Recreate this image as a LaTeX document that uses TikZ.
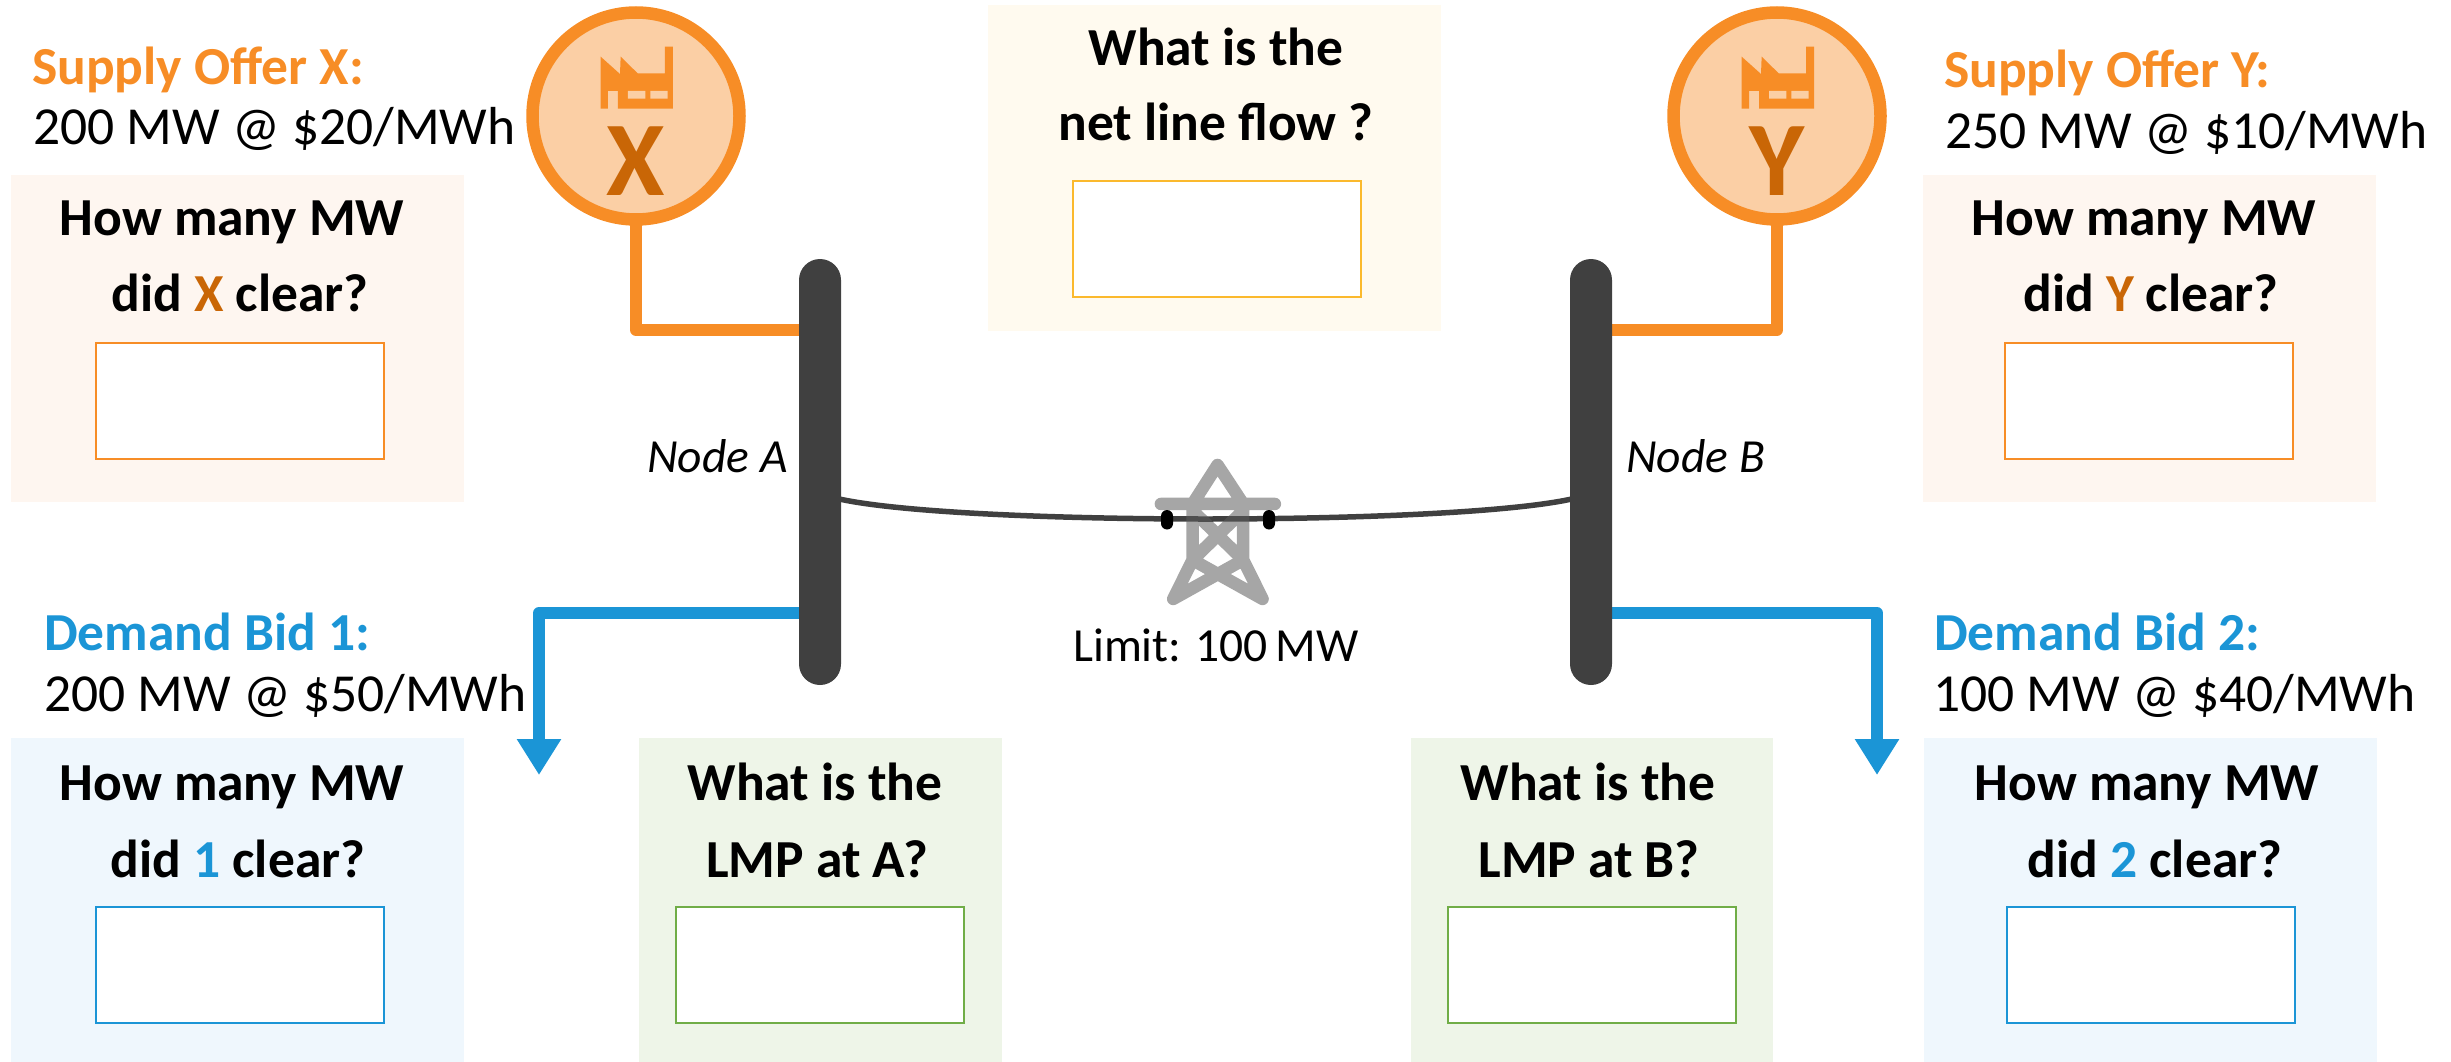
\documentclass[tikz,border=0pt]{standalone}
\usepackage{fontspec}
\setmainfont{Carlito}
\usetikzlibrary{arrows.meta,backgrounds}
\definecolor{ora}{HTML}{F78D26}
\definecolor{orad}{HTML}{C96606}
\definecolor{oral}{HTML}{FBCFA5}
\definecolor{orabg}{HTML}{FEF6F0}
\definecolor{yelbg}{HTML}{FFFAEF}
\definecolor{yel}{HTML}{FBB92D}
\definecolor{blu}{HTML}{1B95D6}
\definecolor{blubg}{HTML}{EFF7FD}
\definecolor{grn}{HTML}{70AD47}
\definecolor{grnbg}{HTML}{EEF5E8}
\definecolor{dark}{HTML}{404040}
\definecolor{tower}{HTML}{5D5D5D}
\newcommand{\fs}[1]{\fontsize{#1}{#1}\selectfont}
\tikzset{
  panel/.style={rectangle,inner sep=0pt,outer sep=0pt,minimum width=453pt,minimum height=#1},
  panel/.default=324pt,
  answer/.style={rectangle,draw=#1,fill=white,line width=2pt,inner sep=0pt,minimum width=288pt,minimum height=116pt},
  head/.style={anchor=base west,inner sep=0pt,font=\fs{53.5}\bfseries},
  offer/.style={anchor=base west,inner sep=0pt,font=\fs{53.5},text=black},
  ask/.style={anchor=base,inner sep=0pt,font=\fs{53.5}\bfseries,text=black},
  small/.style={anchor=base,inner sep=0pt,font=\fs{47.5},text=black},
  busbar/.style={rectangle,fill=dark,rounded corners=21pt,inner sep=0pt,outer sep=0pt,minimum width=42pt,minimum height=426pt},
  gen/.style={circle,draw=ora,fill=oral,line width=12.5pt,inner sep=0pt,minimum size=207pt,outer sep=0pt},
  genline/.style={draw=ora,line width=12pt,line join=round},
  dem/.style={draw=blu,line width=12pt,line join=round,-{Triangle[length=36pt,width=42pt]}},
  letter/.style={anchor=base,inner sep=0pt,font=\fs{106}\bfseries,text=orad}
}
\newcommand{\factory}[1]{%
  \begin{scope}[shift={(#1,0)},x=0.3333pt,y=-0.3333pt]
    \fill[ora] (302,170)--(360,222)--(362,170)--(413,220)--(495,220)--(495,140)--(519,140)--(519,326)--(354,326)--(354,273)--(324,273)--(324,326)--(302,326)--cycle;
    \fill[oral] (384,273) rectangle (436,296) (451,273) rectangle (503,296);
  \end{scope}}
\begin{document}
\begin{tikzpicture}[x=1pt,y=-1pt]
\useasboundingbox (0,0) rectangle (2451,1062);
% panels
\node[panel=327pt,fill=orabg] (pX) at (237.5,338.5) {};
\node[panel=327pt,fill=orabg] (pY) at (2149.5,338.5) {};
\node[panel=326pt,fill=yelbg] (pN) at (1214,168) {};
\node[panel,fill=blubg] (p1) at (237.5,900) {};
\node[panel,fill=blubg] (p2) at (2150.5,900) {};
\node[panel,fill=grnbg,minimum width=363pt] (pA) at (820.5,900) {};
\node[panel,fill=grnbg,minimum width=362pt] (pB) at (1592,900) {};
% answer boxes
\node[answer=ora] (aX) at (240,401) {};
\node[answer=ora] (aY) at (2149,401) {};
\node[answer=yel] (aN) at (1216.5,239) {};
\node[answer=blu] (a1) at (240,964.5) {};
\node[answer=blu] (a2) at (2151,964.5) {};
\node[answer=grn] (aA) at (820,964.5) {};
\node[answer=grn] (aB) at (1592,964.5) {};
% generators and buses
\node[gen] (genX) at (636,116) {};
\node[gen] (genY) at (1777,116) {};
\factory{500}
\factory{1641}
\node[letter] (lX) at (636,195) {X};
\node[letter] (lY) at (1777,195) {Y};
\node[busbar] (busA) at (820,472) {};
\node[busbar] (busB) at (1591,472) {};
\coordinate (jXb) at (820,330);
\coordinate (jYb) at (1591,330);
\coordinate (j1b) at (820,613);
\coordinate (j2b) at (1591,613);
\coordinate (t1) at (539,775);
\coordinate (t2) at (1877,775);
\coordinate (lA) at (835,498);
\coordinate (lB) at (1576,498);
% connectors
\begin{scope}[on background layer]
  \path[genline] (genX) |- (jXb);
  \path[genline] (genY) |- (jYb);
  \draw[dem] (j1b) -| (t1);
  \draw[dem] (j2b) -| (t2);
\end{scope}
% line
\draw[dark,line width=5.5pt] (lA) .. controls (950,526) and (1461,526) .. (lB);
% tower
\begin{scope}[x=0.3333pt,y=-0.3333pt,shift={(3300,1320)}]
\draw[tower,opacity=0.55,line width=12.5pt,line cap=round,line join=round,
  transparency group]
  (183,192)--(525,192)
  (278,192)--(353,75)--(430,192)
  (278,192)--(278,360)--(220,477)
  (430,192)--(430,360)--(488,477)
  (278,212)--(430,360)
  (430,212)--(278,360)
  (220,477)--(430,360)
  (488,477)--(278,360);
\end{scope}
\fill[black,rounded corners=6pt] (1161,510) -- (1173,510) -- (1173,529.5) -- (1161,529.5) -- cycle;
\fill[black,rounded corners=6pt] (1263,510) -- (1275,510) -- (1275,529.5) -- (1263,529.5) -- cycle;
% texts
\node[head,text=ora] (sX) at (32,85) {Supply Offer X:};
\node[offer] (oX) at (33,145) {200 MW @ \$20/MWh};
\node[head,text=ora] (sY) at (1944,88) {Supply Offer Y:};
\node[offer] (oY) at (1945,149) {250 MW @ \$10/MWh};
\node[head,text=blu] (d1) at (44,650) {Demand Bid 1:};
\node[offer] (o1) at (44,711) {200 MW @ \$50/MWh};
\node[head,text=blu] (d2) at (1934,650) {Demand Bid 2:};
\node[offer] (o2) at (1933,711) {100 MW @ \$40/MWh};
\node[ask] (qX1) at (232,235) {How many MW};
\node[ask] (qX2) at (240,311) {did {\color{orad}X} clear?};
\node[ask] (qY1) at (2144,235) {How many MW};
\node[ask] (qY2) at (2151,311) {did {\color{orad}Y} clear?};
\node[ask] (qN1) at (1216,66) {What is the};
\node[ask] (qN2) at (1216,141) {net line flow ?};
\node[ask] (q11) at (232,800) {How many MW};
\node[ask] (q12) at (238,877) {did {\color{blu}1} clear?};
\node[ask] (q21) at (2147,800) {How many MW};
\node[ask] (q22) at (2155,877) {did {\color{blu}2} clear?};
\node[ask] (qA1) at (815,800) {What is the};
\node[ask] (qA2) at (817,877) {LMP at A?};
\node[ask] (qB1) at (1588,800) {What is the};
\node[ask] (qB2) at (1589,877) {LMP at B?};
\node[small,anchor=base west] (nA) at (647,472) {\itshape Node A};
\node[small,anchor=base west] (nB) at (1626,472) {\itshape Node B};
\node[small] (lim) at (1216,661) {Limit: 100\,MW};
\end{tikzpicture}
\end{document}
